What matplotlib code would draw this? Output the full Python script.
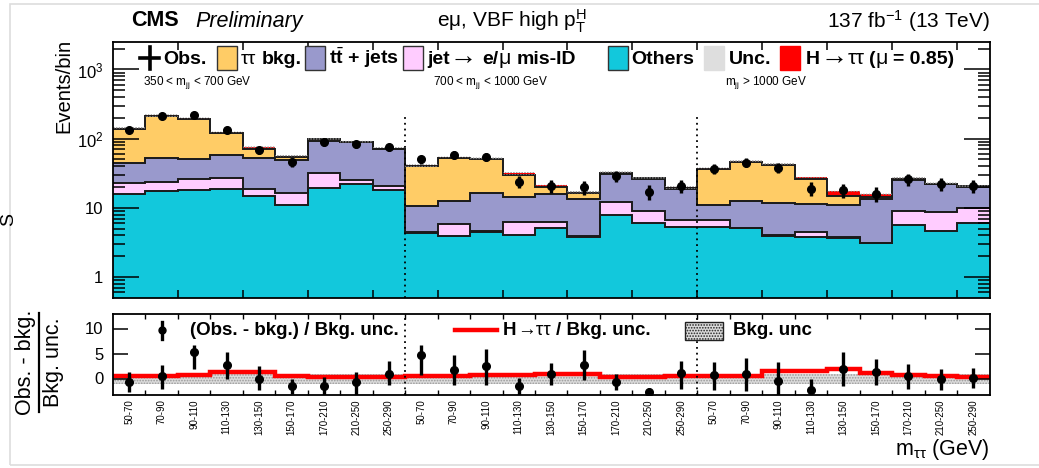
import numpy as np
import matplotlib
matplotlib.use("Agg")
import matplotlib.pyplot as plt
from matplotlib.patches import Rectangle
from matplotlib.lines import Line2D
from matplotlib.ticker import FixedLocator, NullFormatter, FixedFormatter, NullLocator

plt.rcParams['font.family'] = ['Liberation Sans', 'DejaVu Sans']
plt.rcParams['mathtext.fontset'] = 'custom'
plt.rcParams['mathtext.rm'] = 'Liberation Sans'
plt.rcParams['mathtext.it'] = 'Liberation Sans:italic'
plt.rcParams['mathtext.bf'] = 'Liberation Sans:bold'
plt.rcParams['hatch.linewidth'] = 0.8

# ---------------- data ----------------
mtt_bins = ["50-70", "70-90", "90-110", "110-130", "130-150",
            "150-170", "170-210", "210-250", "250-290"]
mjj_regions = [r"350 < m$_{\rm jj}$ < 700 GeV",
               r"700 < m$_{\rm jj}$ < 1000 GeV",
               r"m$_{\rm jj}$ > 1000 GeV"]
bin_labels = mtt_bins * 3

others = [15.8, 17.6, 18.4, 19.0, 14.6, 10.9, 19.4, 21.8, 18.4,
          4.36, 3.9, 4.5, 4.04, 5.04, 3.8, 7.85, 6.08, 5.3,
          5.3, 5.04, 3.95, 3.82, 3.7, 3.06, 5.63, 4.61, 5.96]
fakes = [6.7, 6.1, 7.6, 7.6, 4.2, 5.6, 13.0, 3.3, 2.2,
         0.05, 1.9, 0.05, 2.26, 1.16, 0.05, 4.15, 2.98, 1.35,
         1.35, 0.05, 0.05, 0.6, 0.05, 0.05, 3.43, 4.15, 3.84]
ttbar = [22.1, 29.7, 25.0, 32.4, 33.9, 32.3, 60.3, 62.9, 49.7,
         6.3, 6.8, 12.0, 8.1, 9.4, 9.4, 18.6, 17.4, 12.35,
         4.25, 7.36, 7.65, 6.78, 7.2, 10.14, 16.04, 13.24, 10.3]
ztt = [95.4, 159.6, 144.0, 63.0, 19.3, 5.7, 5.3, 2.0, 1.7,
       29.3, 40.8, 33.9, 15.2, 4.5, 2.9, 1.4, 0.5, 0.4,
       26.1, 33.6, 29.7, 14.5, 4.0, 1.2, 1.1, 0.4, 0.3]
htt = [3.0, 4.0, 4.0, 4.0, 3.5, 1.2, 1.5, 1.2, 1.0,
       1.0, 1.2, 1.2, 1.8, 1.2, 0.6, 0.6, 0.4, 0.3,
       0.9, 1.0, 1.4, 2.3, 2.7, 1.4, 0.7, 0.4, 0.3]
observed = [135, 213, 223, 132, 68, 46, 88, 83, 76,
            50, 58, 55, 24, 21, 20, 29, 17, 21,
            37, 45, 38, 19, 18, 16, 26, 22, 21]
bkg_rel_unc = 0.04

pull = [-0.67, 0.46, 5.3, 2.66, 0.0, -1.53, -1.53, -0.67, 1.0,
        4.8, 1.8, 2.46, -1.53, 1.0, 2.66, -0.67, -2.67, 1.13,
        0.66, 1.0, -0.46, -2.2, 2.0, 1.33, 0.46, 0.0, 0.2]
pull_err_hi = [2.0, 2.2, 1.4, 2.66, 2.5, 1.53, 1.86, 2.0, 2.46,
               1.86, 2.86, 3.54, 1.73, 2.13, 3.0, 1.53, 0.87, 2.4,
               2.6, 3.2, 3.72, 2.2, 3.33, 2.67, 2.4, 1.86, 2.0]
pull_err_lo = [2.0, 2.46, 3.3, 2.66, 2.3, 1.6, 1.9, 2.6, 2.33,
               4.14, 3.13, 3.8, 1.8, 2.33, 3.0, 1.66, 0.9, 3.13,
               2.86, 3.46, 3.5, 2.2, 3.46, 2.67, 2.46, 2.2, 2.0]
sig_over_unc = [0.46, 0.46, 0.7, 1.26, 1.26, 0.53, 0.33, 0.33, 0.35,
                0.46, 0.46, 0.7, 0.73, 0.86, 0.86, 0.33, 0.33, 0.46,
                0.46, 0.46, 1.46, 1.46, 2.0, 1.13, 0.66, 0.46, 0.33]

# ---------------- style ----------------
c_others = '#12c8dc'
c_fakes = '#ffccff'
c_ttbar = '#9999cc'
c_ztt = '#ffcc66'
c_htt = '#ff0000'
edge = '#1a1a1a'

W, H = 1039, 468
fig = plt.figure(figsize=(W / 100, H / 100), dpi=100)
renderer = fig.canvas.get_renderer()


def P(x, y):
    return (x / W, 1 - y / H)


def axes_px(x0, y0, x1, y1):
    return fig.add_axes([x0 / W, 1 - y1 / H, (x1 - x0) / W, (y1 - y0) / H])


def chain(x, base_y, parts, size):
    """Write text pieces one after another on a common baseline."""
    for s, bold, gap, scale in parts:
        t = fig.text(x / W, 1 - base_y / H, s, fontsize=size * scale, ha='left',
                     va='baseline', fontweight='bold' if bold else 'normal')
        bb = t.get_window_extent(renderer)
        x = bb.x1 + gap
    return x


ax = axes_px(113, 41.5, 989.5, 297.5)
rx = axes_px(113, 313.5, 989.5, 395)

nb = len(observed)
edges = np.arange(nb + 1)
centers = edges[:-1] + 0.5

layers = [np.array(others), np.array(fakes), np.array(ttbar), np.array(ztt)]
colors = [c_others, c_fakes, c_ttbar, c_ztt]
base = np.full(nb, 1e-3)
for vals, col in zip(layers, colors):
    top = base + vals
    ax.stairs(top, edges, baseline=base, fill=True, color=col, lw=0)
    base = top
bkg_total = base
sig_top = bkg_total + np.array(htt)
ax.stairs(sig_top, edges, baseline=bkg_total, fill=True, color=c_htt, lw=0)

# outlines of the stacked components
cum = np.zeros(nb)
for vals in layers:
    cum = cum + vals
    ax.stairs(cum, edges, baseline=None, color=edge, lw=1.4)

# background uncertainty band
ax.stairs(sig_top * (1 + bkg_rel_unc), edges, baseline=sig_top * (1 - bkg_rel_unc),
          fill=True, facecolor='none', edgecolor='#8c8c8c', hatch='......', lw=0)

obs = np.array(observed, dtype=float)
ax.errorbar(centers, obs, yerr=np.sqrt(obs), fmt='o', color='black', ms=5.5,
            elinewidth=2.4, capsize=0, zorder=5)

ax.set_yscale('log')
ax.set_ylim(0.505, 2540)
ax.set_xlim(0, nb)

for sep in (9, 18):
    ax.plot([sep, sep], [0.505, 210], color='black', ls=(0, (1, 2.2)), lw=1.3)
    rx.axvline(sep, color='black', ls=(0, (1, 2.2)), lw=1.3)

ax.yaxis.set_major_locator(FixedLocator([1, 10, 100, 1000]))
ax.yaxis.set_major_formatter(FixedFormatter(['1', '10', r'$10^{2}$', r'$10^{3}$']))
minors = [m * 10.0 ** e for e in range(-1, 4) for m in range(2, 10)]
ax.yaxis.set_minor_locator(FixedLocator(minors))
ax.yaxis.set_minor_formatter(NullFormatter())
ax.xaxis.set_major_locator(FixedLocator(np.arange(2, nb, 2)))
ax.xaxis.set_major_formatter(NullFormatter())
ax.xaxis.set_minor_locator(NullLocator())
ax.tick_params(axis='y', which='major', direction='in', length=19, width=1.1,
               left=True, right=True, labelsize=12, pad=7)
ax.tick_params(axis='y', which='minor', direction='in', length=8.5, width=1.1,
               left=True, right=True)
ax.tick_params(axis='x', which='major', direction='in', length=5.5, width=1.1,
               top=True, bottom=True)
for s in ax.spines.values():
    s.set_linewidth(1.3)

# ---- ratio panel ----
rx.fill_between([0, nb], -1, 1, facecolor='#dcdcdc', edgecolor='#9a9a9a',
                hatch='......', lw=0)
rx.stairs(sig_over_unc, edges, baseline=None, color=c_htt, lw=3.2)
rx.errorbar(centers, pull, yerr=[pull_err_lo, pull_err_hi], fmt='o', color='black',
            ms=5.5, elinewidth=2.4, capsize=0, zorder=5)
rx.set_xlim(0, nb)
rx.set_ylim(-3.3, 13)
rx.yaxis.set_major_locator(FixedLocator([0, 5, 10]))
rx.yaxis.set_minor_locator(NullLocator())
rx.xaxis.set_major_locator(FixedLocator(edges[1:-1]))
rx.xaxis.set_major_formatter(NullFormatter())
rx.xaxis.set_minor_locator(FixedLocator(centers))
rx.xaxis.set_minor_formatter(FixedFormatter(bin_labels))
rx.tick_params(axis='x', which='major', direction='in', length=3.5, width=1.0,
               top=True, bottom=True)
rx.tick_params(axis='x', which='minor', length=0, labelsize=7, labelrotation=90, pad=3)
rx.tick_params(axis='y', which='major', direction='in', length=11, width=1.1,
               left=True, right=True, labelsize=12, pad=7)
for s in rx.spines.values():
    s.set_linewidth(1.3)

# ---------------- texts ----------------
fig.text(*P(131, 21), "CMS", fontsize=15.5, fontweight='bold', ha='left', va='center')
fig.text(*P(195, 21), "Preliminary", fontsize=15.5, style='italic', ha='left', va='center')
fig.text(*P(512, 21), "e\u03bc, VBF high p$_{\\rm T}^{\\rm H}$", fontsize=15,
         ha='center', va='center')
fig.text(*P(990, 21), r"137 fb$^{-1}$ (13 TeV)", fontsize=15, ha='right', va='center')

fig.text(*P(64, 39), "Events/bin", fontsize=14.5, rotation=90, ha='center', va='top')

# stacked fraction label for the ratio panel
fig.text(*P(25, 362), "Obs. - bkg.", fontsize=15.5, rotation=90, ha='center', va='center')
fig.text(*P(53, 362), "Bkg. unc.", fontsize=15.5, rotation=90, ha='center', va='center')
fig.add_artist(Line2D([39 / W, 39 / W], [1 - 313 / H, 1 - 412 / H], color='black', lw=1.6))

fig.text(*P(990, 449), "m$_{\\rm \u03c4\u03c4}$ (GeV)", fontsize=15.5, ha='right', va='center')

for txt, x in zip(mjj_regions, (143, 433, 725)):
    fig.text(*P(x, 83), txt, fontsize=8.5, ha='left', va='center')

# ---- main legend row ----
ly = 58
lb = 64  # text baseline of the legend row
fig.add_artist(Line2D([140 / W, 159 / W], [1 - ly / H] * 2, color='black', lw=2.6))
fig.add_artist(Line2D([149.5 / W] * 2, [1 - 47 / H, 1 - 69 / H], color='black', lw=2.6))
chain(163, lb, [("Obs.", True, 0, 1)], 14)


def legend_box(x, color, hatch=None, ec='#333333'):
    r = Rectangle(P(x, 70), 20 / W, 24 / H, transform=fig.transFigure,
                  facecolor=color, edgecolor=ec, lw=1.0, hatch=hatch)
    fig.add_artist(r)


legend_box(217, c_ztt)
chain(241, lb, [("\u03c4\u03c4", False, 5, 1), ("bkg.", True, 0, 1)], 14)
legend_box(305, c_ttbar)
fig.text(*P(329, lb), r"t$\bar{\mathbf{t}}$ + jets", fontsize=14, fontweight='bold',
         ha='left', va='baseline')
legend_box(403, c_fakes)
chain(427, lb, [("jet", True, 0, 1), ("\u2192", False, 5, 1.4), ("e/", True, 0, 1),
                ("\u03bc", False, 6, 1.1), ("mis-ID", True, 0, 1)], 14)
legend_box(608, c_others)
chain(631, lb, [("Others", True, 0, 1)], 14)
legend_box(704, '#dedede', hatch='......', ec='#dedede')
chain(729, lb, [("Unc.", True, 0, 1)], 14)
legend_box(780, c_htt, ec=c_htt)
chain(806, lb, [("H", True, 0, 1), ("\u2192", False, 0, 1.4), ("\u03c4\u03c4", False, 5, 1.1),
                ("(", True, 0, 1), ("\u03bc", False, 5, 1.1), ("= 0.85)", True, 0, 1)], 14)

# ---- ratio legend ----
ry = 330
rb = 335
fig.add_artist(Line2D([162 / W] * 2, [1 - 322 / H, 1 - 339 / H], color='black', lw=2.4))
fig.add_artist(Line2D([162 / W], [1 - ry / H], marker='o', color='black', ms=5))
chain(190, rb, [("(Obs. - bkg.) / Bkg. unc.", True, 0, 1)], 13.5)
fig.add_artist(Line2D([455 / W, 497 / W], [1 - ry / H] * 2, color=c_htt, lw=3.2))
chain(503, rb, [("H", True, 1, 1), ("\u2192\u03c4\u03c4", False, 5, 1),
                ("/ Bkg. unc.", True, 0, 1)], 13.5)
fig.add_artist(Rectangle(P(685, 340), 38 / W, 18 / H, transform=fig.transFigure,
                         facecolor='#dcdcdc', edgecolor='#222222', lw=1.0, hatch='......'))
chain(733, rb, [("Bkg. unc", True, 0, 1)], 13.5)

# page frame
fig.add_artist(Rectangle(P(10, 465), 1030 / W, 461 / H, transform=fig.transFigure,
                         facecolor='none', edgecolor='#dddddd', lw=1.2))
fig.text(*P(9, 220), "S", fontsize=14, rotation=90, ha='center', va='center')

fig.savefig("out.png", dpi=100)
